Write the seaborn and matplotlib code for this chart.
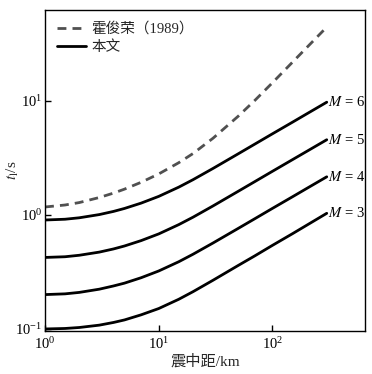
import matplotlib
matplotlib.use("Agg")
import matplotlib.pyplot as plt
import seaborn as sns
from matplotlib.lines import Line2D

# epicentral distance (km)
distance = [1, 1.5, 2, 3, 4, 5, 7, 10, 15, 20, 30, 50, 70, 100, 150, 200, 300]

# Huo Junrong (1989)
huo_1989 = [1.17, 1.218, 1.279, 1.416, 1.548, 1.677, 1.925, 2.278, 2.858, 3.436,
            4.68, 7.30, 10.04, 14.34, 21.7, 29.1, 44.0]

# this paper, one curve per magnitude
t_m6 = [0.90, 0.914, 0.941, 1.004, 1.070, 1.136, 1.265, 1.449, 1.746, 2.028,
        2.545, 3.42, 4.16, 5.12, 6.47, 7.65, 9.68]
t_m5 = [0.423, 0.429, 0.442, 0.471, 0.502, 0.533, 0.594, 0.680, 0.820, 0.952,
        1.195, 1.606, 1.953, 2.404, 3.04, 3.59, 4.54]
t_m4 = [0.200, 0.203, 0.209, 0.223, 0.238, 0.252, 0.281, 0.322, 0.388, 0.451,
        0.566, 0.760, 0.924, 1.138, 1.438, 1.70, 2.15]
t_m3 = [0.100, 0.101, 0.103, 0.108, 0.114, 0.120, 0.133, 0.151, 0.182, 0.212,
        0.267, 0.360, 0.437, 0.540, 0.683, 0.810, 1.03]

magnitudes = ["6", "5", "4", "3"]
curves = [t_m6, t_m5, t_m4, t_m3]

sns.set_theme(style="ticks")
plt.rcParams["font.family"] = ["Liberation Serif", "Noto Sans CJK SC"]
plt.rcParams["mathtext.fontset"] = "stix"

fig = plt.figure(figsize=(3.72, 3.74), dpi=100)
ax = fig.add_axes([0.121, 0.115, 0.860, 0.858])

dash = (0, (3.2, 2.2))
sns.lineplot(x=distance, y=huo_1989, ax=ax, color="#505050", linewidth=2.0,
             linestyle=dash, legend=False)
for mag, vals in zip(magnitudes, curves):
    sns.lineplot(x=distance, y=vals, ax=ax, color="black", linewidth=2.0, legend=False)
    ax.text(distance[-1] * 1.02, vals[-1], f"$M$ = {mag}", fontsize=10.5,
            ha="left", va="center", color="black")

ax.set_xscale("log")
ax.set_yscale("log")
ax.set_xlim(1, 650)
ax.set_ylim(0.096, 62)
ax.minorticks_off()
ax.tick_params(direction="in", length=4, width=1, labelsize=10.5, colors="black", pad=2)
ax.tick_params(axis="x", pad=4)
for s in ax.spines.values():
    s.set_linewidth(1.0)
    s.set_color("black")

ax.set_xlabel("震中距/km", fontsize=11, labelpad=1)
ax.set_ylabel("$t_{\\mathrm{l}}$/s", fontsize=11)
ax.yaxis.set_label_coords(-0.076, 0.5)

handles = [
    Line2D([], [], color="#505050", linewidth=2.0, linestyle=dash),
    Line2D([], [], color="black", linewidth=2.0),
]
ax.legend(handles, ["霍俊荣（1989）", "本文"], loc="upper left", frameon=False,
          fontsize=10.5, handlelength=2.0, handletextpad=0.4, labelspacing=0.35,
          borderaxespad=0.4)

fig.savefig("out.png", dpi=100)
plt.close(fig)
